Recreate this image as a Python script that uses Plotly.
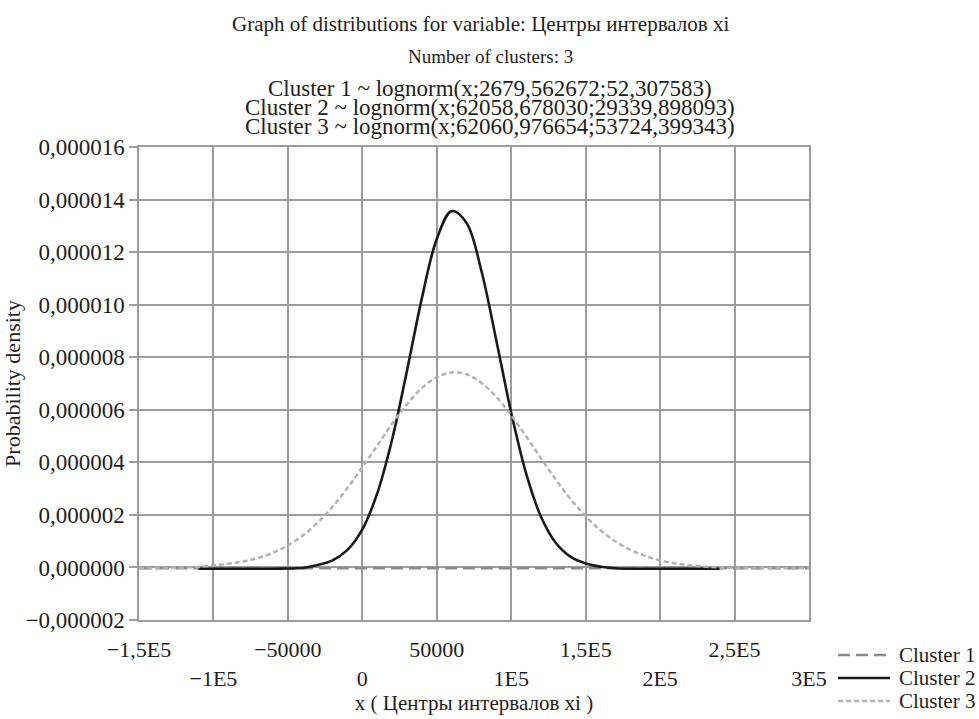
import plotly.graph_objects as go

# ---- data ----
title_lines = [
    "Graph of distributions for variable: Центры интервалов xi",
    "Number of clusters: 3",
    "Cluster 1 ~ lognorm(x;2679,562672;52,307583)",
    "Cluster 2 ~ lognorm(x;62058,678030;29339,898093)",
    "Cluster 3 ~ lognorm(x;62060,976654;53724,399343)",
]
series_names = ["Cluster 1", "Cluster 2", "Cluster 3"]

c1_x = [-150000, -50000, 0, 50000, 100000, 200000, 300000]
c1_y = [-0.00000003, -0.00000003, -0.00000003, -0.00000003, -0.00000003, -0.00000003, -0.00000003]

c2_x = [-110000, -100000, -90000, -80000, -70000, -60000, -50000, -40000, -30000, -20000,
        -10000, 0, 10000, 20000, 30000, 40000, 50000, 60000, 70000, 80000,
        90000, 100000, 110000, 120000, 130000, 140000, 150000, 160000, 170000, 180000,
        190000, 200000, 210000, 220000, 230000, 240000]
c2_y = [-0.00000005, -0.00000005, -0.00000005, -0.00000005, -0.00000005, -0.00000005,
        -0.00000004, -0.00000002, 0.00000009, 0.00000027,
        0.00000067, 0.00000145, 0.00000282, 0.00000487, 0.00000749, 0.00001025,
        0.0000125, 0.00001356, 0.00001311, 0.00001128,
        0.00000864, 0.00000589, 0.00000358, 0.00000193, 0.00000093, 0.0000004,
        0.00000015, 0.00000003, -0.00000003, -0.00000005,
        -0.00000005, -0.00000005, -0.00000005, -0.00000005, -0.00000005, -0.00000005]

c3_x = [-150000, -140000, -130000, -120000, -110000, -100000, -90000, -80000, -70000, -60000,
        -50000, -40000, -30000, -20000, -10000, 0, 10000, 20000, 30000, 40000,
        50000, 60000, 70000, 80000, 90000, 100000, 110000, 120000, 130000, 140000,
        150000, 160000, 170000, 180000, 190000, 200000, 210000, 220000, 230000, 240000,
        250000, 260000, 270000, 280000, 290000, 300000]
c3_y = [-0.00000003, -0.00000003, -0.00000002, -0.00000001, 0.00000002, 0.00000008,
        0.00000014, 0.00000023, 0.00000036, 0.00000056,
        0.00000084, 0.00000122, 0.00000171, 0.00000231, 0.00000302, 0.00000381,
        0.00000464, 0.00000547, 0.00000621, 0.00000683,
        0.00000724, 0.00000742, 0.00000735, 0.00000702, 0.00000649, 0.00000579,
        0.00000499, 0.00000415, 0.00000334, 0.00000259,
        0.00000195, 0.00000141, 0.00000099, 0.00000067, 0.00000044, 0.00000027,
        0.00000016, 0.00000008, 0.00000003, 0.0,
        -0.00000002, -0.00000003, -0.00000003, -0.00000003, -0.00000003, -0.00000003]

x_tickvals = [-150000, -100000, -50000, 0, 50000, 100000, 150000, 200000, 250000, 300000]
x_ticktext = ["−1,5E5", "<br>−1E5", "−50000", "<br>0", "50000", "<br>1E5",
              "1,5E5", "<br>2E5", "2,5E5", "<br>3E5"]
y_tickvals = [-0.000002, 0.0, 0.000002, 0.000004, 0.000006, 0.000008,
              0.000010, 0.000012, 0.000014, 0.000016]
y_ticktext = ["−0,000002", "0,000000", "0,000002", "0,000004", "0,000006", "0,000008",
              "0,000010", "0,000012", "0,000014", "0,000016"]
x_title = "x ( Центры интервалов xi )"
y_title = "Probability density"

# ---- styles ----
FONT = "Liberation Serif"
TXT = "#1e1e1e"
GRID = "#9c9c9c"
styles = [
    dict(color="#8a8a8a", width=2.5, dash="12px,6px"),
    dict(color="#1a1a1a", width=2.6, dash="solid"),
    dict(color="#b3b3b3", width=2.5, dash="5px,3px"),
]

fig = go.Figure()
for name, xs, ys, st in zip(series_names, [c1_x, c2_x, c3_x], [c1_y, c2_y, c3_y], styles):
    fig.add_trace(go.Scatter(x=xs, y=ys, mode="lines", name=name, showlegend=False,
                             line=dict(color=st["color"], width=st["width"],
                                       dash=st["dash"], shape="spline")))

W, H = 979, 719
plot_left, plot_right = 139, 809
plot_top, plot_bottom = 147, 620
plot_w = plot_right - plot_left
plot_h = plot_bottom - plot_top

def paper_x(px):
    return (px - plot_left) / plot_w

def paper_y(py):
    return (plot_bottom - py) / plot_h

annots = []
title_specs = [(480, 24, 21), (490, 56, 19), (490, 89, 23), (490, 108, 23), (490, 127, 23)]
for txt, (px, py, fs) in zip(title_lines, title_specs):
    annots.append(dict(text=txt, xref="paper", yref="paper", x=paper_x(px), y=paper_y(py),
                       xanchor="center", yanchor="middle", showarrow=False,
                       font=dict(family=FONT, size=fs, color=TXT)))

# legend (drawn manually to match the tight row spacing)
shapes = []
for i, (name, st) in enumerate(zip(series_names, styles)):
    py = 655 + i * 23
    shapes.append(dict(type="line", xref="paper", yref="paper",
                       x0=paper_x(838), x1=paper_x(890), y0=paper_y(py), y1=paper_y(py),
                       line=dict(color=st["color"], width=st["width"], dash=st["dash"])))
    annots.append(dict(text=name, xref="paper", yref="paper", x=paper_x(897), y=paper_y(py),
                       xanchor="left", yanchor="middle", showarrow=False,
                       font=dict(family=FONT, size=21, color=TXT)))

fig.update_layout(
    width=W, height=H,
    margin=dict(l=plot_left, r=W - plot_right, t=plot_top, b=H - plot_bottom, pad=0,
                autoexpand=False),
    paper_bgcolor="white", plot_bgcolor="white",
    font=dict(family=FONT, size=22, color=TXT),
    annotations=annots,
    shapes=shapes,
    showlegend=False,
    xaxis=dict(range=[-150000, 300000], tickmode="array", tickvals=x_tickvals,
               ticktext=x_ticktext, showgrid=True, gridcolor=GRID, gridwidth=1.5,
               zeroline=False, showline=True, linecolor=GRID, linewidth=1.5, mirror=True,
               ticks="", ticklabelstandoff=9, automargin=False,
               tickfont=dict(family=FONT, size=22, color=TXT),
               title=dict(text=x_title, standoff=0, font=dict(family=FONT, size=21, color=TXT))),
    yaxis=dict(range=[-0.000002, 0.000016], tickmode="array", tickvals=y_tickvals,
               ticktext=y_ticktext, showgrid=True, gridcolor=GRID, gridwidth=1.5,
               zeroline=False, showline=True, linecolor=GRID, linewidth=1.5, mirror=True,
               ticks="outside", ticklen=8, tickcolor=GRID, tickwidth=1.5, automargin=False,
               tickfont=dict(family=FONT, size=23, color=TXT),
               title=dict(text=y_title, standoff=0, font=dict(family=FONT, size=22, color=TXT))),
)

# remove the page's default body margin so the 979x719 figure fills the window exactly
fig.write_html("out.html", config={"displayModeBar": False},
               post_script="document.body.style.margin='0';document.body.style.overflow='hidden';")
